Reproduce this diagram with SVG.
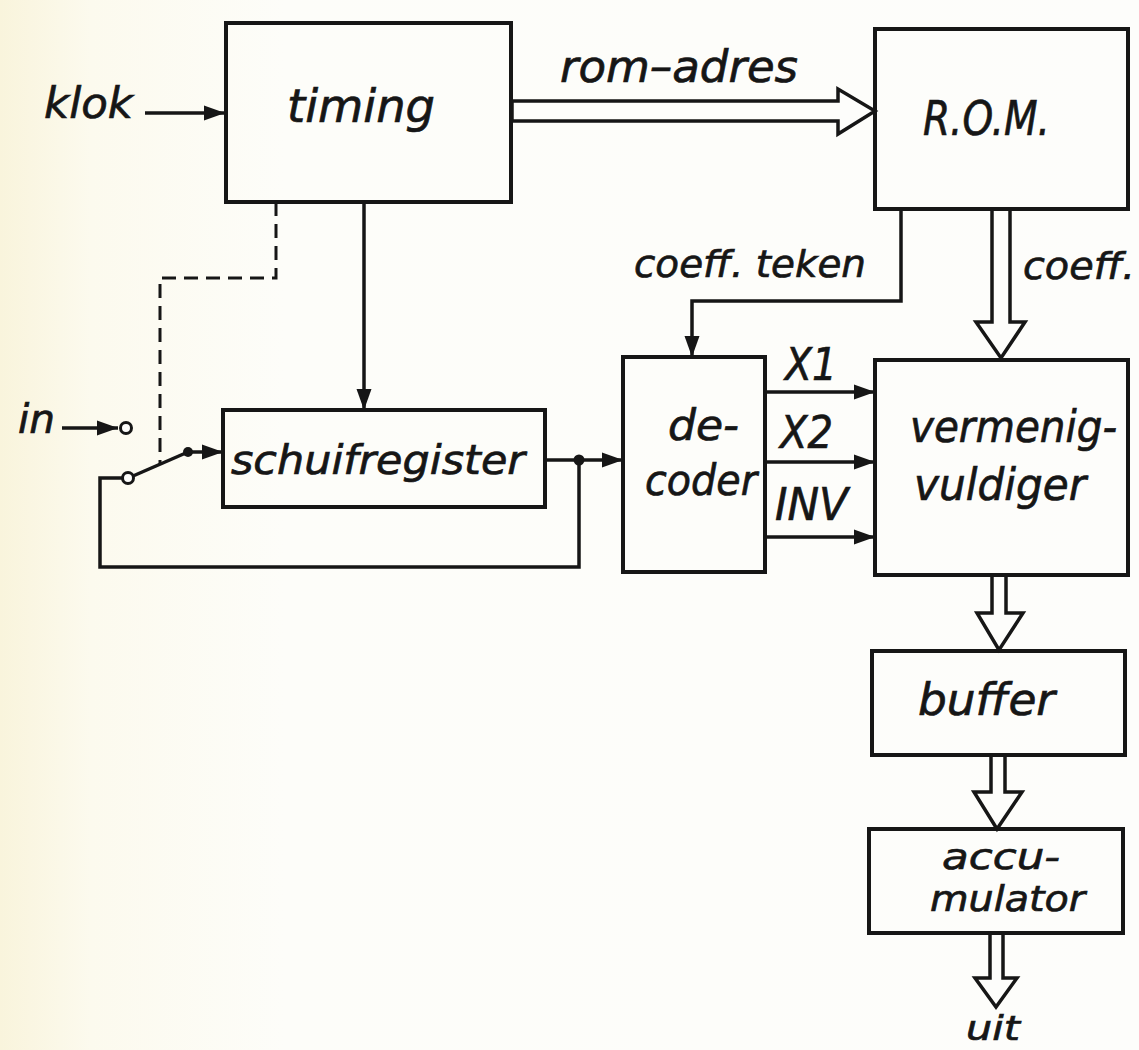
<svg xmlns="http://www.w3.org/2000/svg" width="1139" height="1050" viewBox="0 0 1139 1050">
<defs>
<linearGradient id="bg" x1="0" y1="0" x2="1" y2="0">
<stop offset="0" stop-color="#f9f4dc"/>
<stop offset="0.08" stop-color="#fcfaee"/>
<stop offset="0.25" stop-color="#fdfdf9"/>
<stop offset="1" stop-color="#fdfdfb"/>
</linearGradient>
<marker id="ah" markerWidth="22" markerHeight="16" refX="21" refY="8" orient="auto" markerUnits="userSpaceOnUse">
<path d="M0,0.5 L21,8 L0,15.5 z" fill="#161616"/>
</marker>
<style>
.box{fill:none;stroke:#161616;stroke-width:4}
.ln{fill:none;stroke:#161616;stroke-width:3.5}
.dash{fill:none;stroke:#161616;stroke-width:3;stroke-dasharray:14 8}
.hol{fill:#fdfdfb;stroke:#161616;stroke-width:3.5;stroke-linejoin:miter}
.t{font-family:"DejaVu Sans","Liberation Sans",sans-serif;font-style:oblique;fill:#161616;stroke:#161616;stroke-width:0.7}
</style>
</defs>
<rect x="0" y="0" width="1139" height="1050" fill="url(#bg)"/>

<g id="connectors">
<line class="ln" x1="145" y1="113" x2="225" y2="113" marker-end="url(#ah)"/>
<polygon class="hol" points="512,101 838,101 838,89 875,111 838,134 838,121 512,121"/>
<line class="ln" x1="364" y1="202" x2="364" y2="410" marker-end="url(#ah)"/>
<polyline class="dash" points="276,202 276,278 160,278 160,464"/>
<line class="ln" x1="62" y1="428" x2="118" y2="428" marker-end="url(#ah)"/>
<circle cx="126" cy="428" r="5.5" fill="#fdfdfb" stroke="#161616" stroke-width="3"/>
<circle cx="128" cy="478" r="5.5" fill="#fdfdfb" stroke="#161616" stroke-width="3"/>
<line class="ln" x1="133" y1="476" x2="188" y2="452"/>
<circle cx="188" cy="452" r="5" fill="#161616"/>
<line class="ln" x1="188" y1="452" x2="223" y2="452" marker-end="url(#ah)"/>
<polyline class="ln" points="122,478 100,478 100,567 579,567 579,460"/>
<line class="ln" x1="545" y1="460" x2="623" y2="460" marker-end="url(#ah)"/>
<circle cx="579" cy="460" r="5.5" fill="#161616"/>
<polyline class="ln" points="901,209 901,301 692,301 692,357" marker-end="url(#ah)"/>
<polygon class="hol" points="992,209 1010,209 1010,322 1025,322 1001,358 976,322 992,322"/>
<line class="ln" x1="765" y1="392" x2="875" y2="392" marker-end="url(#ah)"/>
<line class="ln" x1="765" y1="462" x2="875" y2="462" marker-end="url(#ah)"/>
<line class="ln" x1="765" y1="537" x2="875" y2="537" marker-end="url(#ah)"/>
<polygon class="hol" points="992,575 1006,575 1006,613 1023,613 999,650 977,613 992,613"/>
<polygon class="hol" points="991,755 1005,755 1005,792 1022,792 997,829 974,792 991,792"/>
<polygon class="hol" points="990,933 1003,933 1003,978 1017,978 996,1007 975,978 990,978"/>
</g>

<g id="timing">
<rect class="box" x="226" y="23" width="285" height="179"/>
<text class="t" x="287" y="122" font-size="46" textLength="148" lengthAdjust="spacingAndGlyphs">timing</text>
</g>
<g id="rom">
<rect class="box" x="875" y="29" width="253" height="180"/>
<text class="t" x="923" y="135" font-size="48" textLength="127" lengthAdjust="spacingAndGlyphs">R.O.M.</text>
</g>
<g id="schuifregister">
<rect class="box" x="223" y="410" width="322" height="97"/>
<text class="t" x="231" y="474" font-size="40" textLength="294" lengthAdjust="spacingAndGlyphs">schuifregister</text>
</g>
<g id="decoder">
<rect class="box" x="623" y="357" width="142" height="215"/>
<text class="t" x="668" y="440" font-size="42" textLength="71" lengthAdjust="spacingAndGlyphs">de-</text>
<text class="t" x="645" y="495" font-size="42" textLength="112" lengthAdjust="spacingAndGlyphs">coder</text>
</g>
<g id="vermenigvuldiger">
<rect class="box" x="875" y="360" width="253" height="215"/>
<text class="t" x="910" y="442" font-size="44" textLength="207" lengthAdjust="spacingAndGlyphs">vermenig-</text>
<text class="t" x="914" y="500" font-size="44" textLength="172" lengthAdjust="spacingAndGlyphs">vuldiger</text>
</g>
<g id="buffer">
<rect class="box" x="872" y="651" width="253" height="104"/>
<text class="t" x="918" y="715" font-size="44" textLength="137" lengthAdjust="spacingAndGlyphs">buffer</text>
</g>
<g id="accumulator">
<rect class="box" x="869" y="829" width="254" height="104"/>
<text class="t" x="942" y="869" font-size="36" textLength="118" lengthAdjust="spacingAndGlyphs">accu-</text>
<text class="t" x="930" y="911" font-size="36" textLength="155" lengthAdjust="spacingAndGlyphs">mulator</text>
</g>

<g id="labels">
<text class="t" x="44" y="118" font-size="42" textLength="89" lengthAdjust="spacingAndGlyphs">klok</text>
<text class="t" x="560" y="82" font-size="44" textLength="238" lengthAdjust="spacingAndGlyphs">rom–adres</text>
<text class="t" x="634" y="277" font-size="38" textLength="232" lengthAdjust="spacingAndGlyphs">coeff. teken</text>
<text class="t" x="1023" y="279" font-size="38" textLength="112" lengthAdjust="spacingAndGlyphs">coeff.</text>
<text class="t" x="785" y="380" font-size="44" textLength="52" lengthAdjust="spacingAndGlyphs">X1</text>
<text class="t" x="780" y="448" font-size="44" textLength="53" lengthAdjust="spacingAndGlyphs">X2</text>
<text class="t" x="775" y="520" font-size="44" textLength="73" lengthAdjust="spacingAndGlyphs">INV</text>
<text class="t" x="18" y="433" font-size="40" textLength="37" lengthAdjust="spacingAndGlyphs">in</text>
<text class="t" x="966" y="1040" font-size="34" textLength="54" lengthAdjust="spacingAndGlyphs">uit</text>
</g>
</svg>
